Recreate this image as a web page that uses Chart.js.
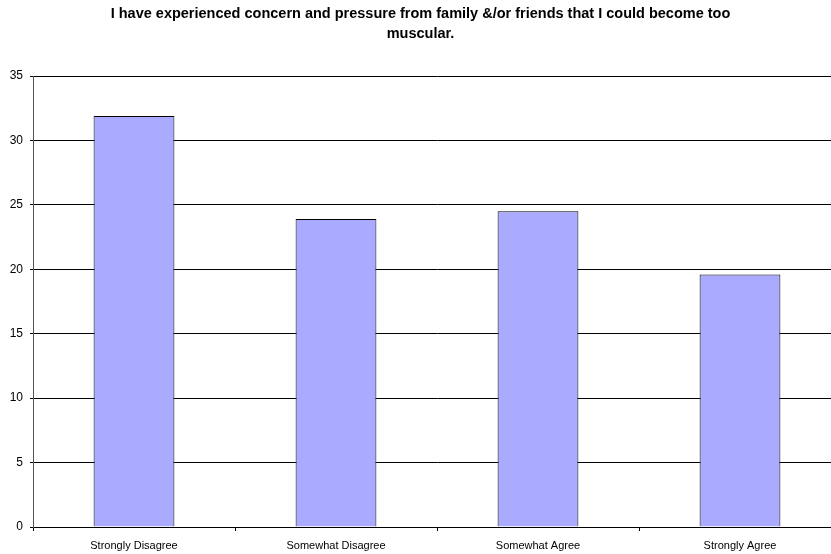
<!DOCTYPE html>
<html>
<head>
<meta charset="utf-8">
<script src="https://cdn.jsdelivr.net/npm/chart.js@4/dist/chart.umd.min.js"></script>
<style>
html,body{margin:0;padding:0;background:#fff;overflow:hidden;}
#wrap{width:850px;height:554px;position:relative;}
</style>
</head>
<body>
<div id="wrap"><canvas id="c" width="850" height="554"></canvas></div>
<script>
const titleLines = ["I have experienced concern and pressure from family &/or friends that I could become too", "muscular."];
const categories = ["Strongly Disagree", "Somewhat Disagree", "Somewhat Agree", "Strongly Agree"];
const values = [31.9, 23.9, 24.5, 19.6];
const yTicks = [0, 5, 10, 15, 20, 25, 30, 35];

const FONT = "'Liberation Sans', Arial, sans-serif";

new Chart(document.getElementById('c'), {
  type: 'bar',
  data: {
    labels: categories,
    datasets: [{
      data: values,
      backgroundColor: '#aaaaff',
      borderColor: '#000000',
      borderWidth: 1,
      categoryPercentage: 0.8,
      barPercentage: 0.5
    }]
  },
  options: {
    responsive: false,
    animation: false,
    devicePixelRatio: 1,
    layout: { padding: { left: 0, right: 9, top: 0, bottom: 0 } },
    plugins: {
      legend: { display: false },
      tooltip: { enabled: false },
      title: {
        display: true,
        text: titleLines,
        color: '#000',
        font: { family: FONT, size: 14.5, weight: 'bold', lineHeight: 20/14.5 },
        padding: { top: 4, bottom: 32 }
      }
    },
    scales: {
      x: {
        grid: { display: true, drawOnChartArea: false, drawTicks: true, tickLength: 4, color: '#000', offset: true },
        border: { display: true, color: '#000', width: 1 },
        ticks: { color: '#000', font: { family: FONT, size: 11 }, padding: 8, maxRotation: 0, autoSkip: false },
        afterFit(scale) { scale.height = 27; }
      },
      y: {
        min: 0, max: 35,
        afterBuildTicks(scale) { scale.ticks = yTicks.map(v => ({ value: v })); },
        grid: { color: '#000', lineWidth: 1, tickLength: 3, drawTicks: true },
        border: { display: true, color: '#555', width: 1 },
        ticks: { color: '#000', font: { family: FONT, size: 12 }, padding: 7 },
        afterFit(scale) { scale.width = 33; }
      }
    }
  }
});
</script>
</body>
</html>
